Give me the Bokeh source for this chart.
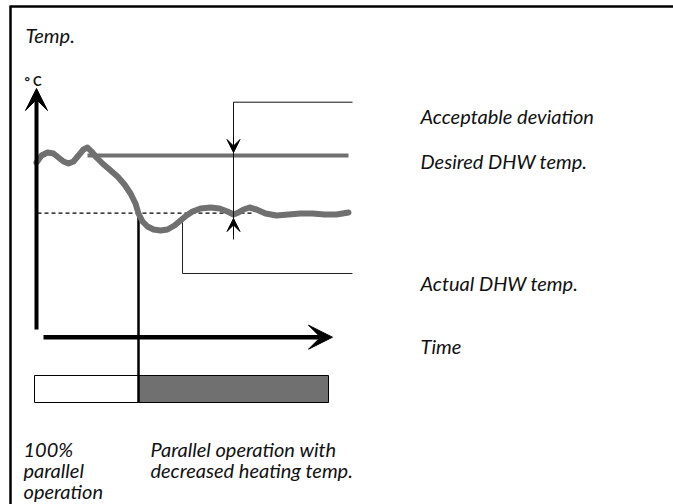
from bokeh.plotting import figure
from bokeh.models import Range1d, Arrow, VeeHead, ColumnDataSource
from bokeh.core.properties import value
from bokeh.embed import file_html
from bokeh.resources import INLINE

# ---- data (diagram coordinates) ----
actual_x = [36, 41, 47, 53, 58, 63, 68, 73, 78, 83, 87, 91, 96, 102, 109, 117, 124, 130, 135, 138,
            142, 147, 153, 160, 167, 174, 180, 186, 192, 200, 210, 219, 227, 233, 238, 243, 249,
            256, 265, 276, 288, 300, 312, 324, 336, 348]
actual_y = [162, 155, 152, 153, 157, 161, 163, 161, 155, 149, 147, 151, 157, 163, 169, 176, 184, 193, 203, 213,
            221, 226, 229, 230, 229, 225, 220, 215, 211, 208, 207, 208, 211, 214, 212, 209, 207,
            209, 213, 215, 214, 213, 213, 214, 214, 212]
desired_x = [87, 348]
desired_y = [155, 155]
target_x = [37, 253]
target_y = [212.7, 212.7]

bar_left = [34, 138]
bar_right = [138, 328]
bar_colors = ["white", "#707070"]

labels = ["Acceptable deviation", "Desired DHW temp.", "Actual DHW temp.", "Time",
          "100%", "parallel", "operation", "Parallel operation with", "decreased heating temp."]
label_x = [420, 420, 420, 420, 23, 23, 23, 150, 150]
label_y = [115, 160, 282, 345, 448, 469, 490, 448, 469]

W, H = 673, 504
p = figure(width=W, height=H, x_range=Range1d(0, W), y_range=Range1d(H, 0),
           output_backend="svg", toolbar_location=None, min_border=0,
           x_axis_type=None, y_axis_type=None)
p.grid.visible = False
p.outline_line_color = None
p.background_fill_color = "white"

# frame
p.line([10, 673], [6, 6], line_color="black", line_width=2.5)
p.line([10, 10], [5, 504], line_color="black", line_width=2.5)

# bar of operating modes
p.quad(left=bar_left, right=bar_right, top=375, bottom=402, fill_color=bar_colors,
       line_color="black", line_width=1)

# reference lines
p.line(target_x, target_y, line_color="black", line_width=1.2, line_dash="4 3")
p.line(desired_x, desired_y, line_color="#707070", line_width=4)

# vertical marker lines
p.line([138, 138], [212.7, 402], line_color="black", line_width=2.5)
p.line([182, 182, 352], [217, 273, 273], line_color="#222222", line_width=1)

# actual curve
p.line(actual_x, actual_y, line_color="#707070", line_width=6, line_join="round", line_cap="round")

# acceptable deviation bracket
p.line([352, 233, 233], [101.7, 101.7, 239], line_color="#111111", line_width=1)
p.add_layout(Arrow(x_start=233, y_start=136, x_end=233, y_end=152, line_width=1,
                   end=VeeHead(size=13, fill_color="black", line_color="black", line_width=1)))
p.add_layout(Arrow(x_start=233, y_start=234, x_end=233, y_end=218, line_width=1,
                   end=VeeHead(size=13, fill_color="black", line_color="black", line_width=1)))

# axes arrows
p.add_layout(Arrow(x_start=36, y_start=329, x_end=36, y_end=88, line_width=4,
                   end=VeeHead(size=22, fill_color="black", line_color="black", line_width=1)))
p.add_layout(Arrow(x_start=43, y_start=336.7, x_end=332, y_end=336.7, line_width=4.5,
                   end=VeeHead(size=24, fill_color="black", line_color="black", line_width=1)))

# texts
src = ColumnDataSource(dict(x=label_x, y=label_y, t=labels))
p.text(x="x", y="y", text="t", source=src, text_font=value("Lato"), text_font_style="italic",
       text_font_size="20px", text_color="#111111", text_baseline="alphabetic", text_align="left")
p.text(x=[25], y=[34], text=["Temp."], text_font=value("Lato"), text_font_style="italic",
       text_font_size="20px", text_color="#111111", text_baseline="alphabetic")
p.text(x=[24], y=[80], text=["° C"], text_font=value("Lato"), text_font_style="bold",
       text_font_size="13px", text_color="#111111", text_baseline="alphabetic")

open("out.html", "w").write(file_html(p, INLINE))
